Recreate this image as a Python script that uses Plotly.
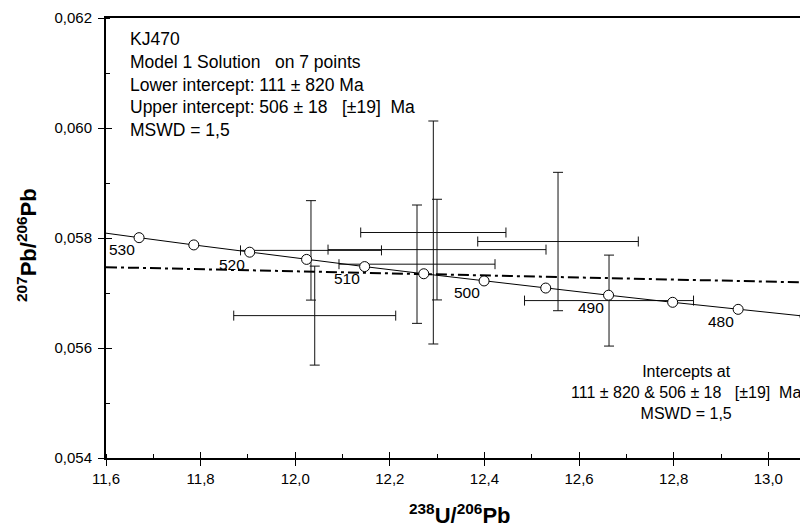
import plotly.graph_objects as go

# --- data ---
# measured points (238U/206Pb, 207Pb/206Pb) with 2-sigma errors
pt_x = [12.0333, 12.2997, 12.2574, 12.2919, 12.5555, 12.6633, 12.0412]
pt_x_err = [0.1490, 0.2304, 0.1649, 0.1535, 0.1697, 0.1786, 0.1712]
pt_y = [0.057775, 0.057789, 0.057524, 0.058100, 0.057936, 0.056862, 0.056589]
pt_y_err = [0.000904, 0.000915, 0.001076, 0.002027, 0.001258, 0.000827, 0.000900]

# concordia curve points (ages in Ma)
conc_age = [470, 475, 480, 485, 490, 495, 500, 505, 510, 515, 520, 525, 530, 535]
conc_x = [13.2218, 13.0776, 12.9362, 12.7978, 12.6623, 12.5295, 12.3992,
          12.2717, 12.1467, 12.0240, 11.9037, 11.7856, 11.6699, 11.5563]
conc_y = [0.056447, 0.056574, 0.056703, 0.056831, 0.056960, 0.057090, 0.057219,
          0.057350, 0.057480, 0.057611, 0.057742, 0.057874, 0.058006, 0.058139]

# circles drawn at 475..530 Ma, labels every 10 Ma
marker_ages = [475, 480, 485, 490, 495, 500, 505, 510, 515, 520, 525, 530]
label_ages = [530, 520, 510, 500, 490, 480]

# discordia (regression) line ends
disc_x = [11.60, 13.10]
disc_y = [0.057470, 0.057188]

x_range = [11.6, 13.0839]
y_range = [0.054, 0.062]

info_lines = ["KJ470", "Model 1 Solution\u00a0\u00a0 on 7 points",
              "Lower intercept: 111 ± 820 Ma",
              "Upper intercept: 506 ± 18\u00a0\u00a0 [±19]\u00a0 Ma",
              "MSWD = 1,5"]
result_lines = ["Intercepts at",
                "111 ± 820 & 506 ± 18\u00a0\u00a0 [±19]\u00a0 Ma",
                "MSWD = 1,5"]

FONT = "Liberation Sans, Arial, sans-serif"

fig = go.Figure()

# error crosses
fig.add_trace(go.Scatter(
    x=pt_x, y=pt_y, mode="markers",
    marker=dict(size=1, color="rgba(0,0,0,0)"),
    error_x=dict(type="data", array=pt_x_err, color="#111111", thickness=1, width=5),
    error_y=dict(type="data", array=pt_y_err, color="#111111", thickness=1, width=5),
    showlegend=False, hoverinfo="skip"))

# discordia line
fig.add_trace(go.Scatter(
    x=disc_x, y=disc_y, mode="lines",
    line=dict(color="black", width=2, dash="11px,4px,3px,4px"),
    showlegend=False, hoverinfo="skip"))

# concordia line
fig.add_trace(go.Scatter(
    x=conc_x, y=conc_y, mode="lines",
    line=dict(color="black", width=1),
    showlegend=False, hoverinfo="skip"))

# concordia age markers
mx = [conc_x[conc_age.index(a)] for a in marker_ages]
my = [conc_y[conc_age.index(a)] for a in marker_ages]
fig.add_trace(go.Scatter(
    x=mx, y=my, mode="markers",
    marker=dict(size=10, color="white", line=dict(color="black", width=1)),
    showlegend=False, hoverinfo="skip"))

# age labels
for a in label_ages:
    i = conc_age.index(a)
    fig.add_annotation(x=conc_x[i], y=conc_y[i], xref="x", yref="y",
                       text=str(a), showarrow=False, xshift=-17.5, yshift=-12,
                       xanchor="center", yanchor="middle",
                       font=dict(family=FONT, size=15.5, color="black"))

# info text top-left
fig.add_annotation(x=11.6465, y=0.060796, xref="x", yref="y",
                   text="<br>".join(info_lines), showarrow=False,
                   xanchor="left", yanchor="middle", align="left",
                   font=dict(family=FONT, size=17.5, color="black"))

# result text bottom-right
fig.add_annotation(x=12.825, y=0.055191, xref="x", yref="y",
                   text="<br>".join(result_lines), showarrow=False,
                   xanchor="center", yanchor="middle", align="center",
                   font=dict(family=FONT, size=16, color="black"))

# axis titles
fig.add_annotation(x=(27 - 106) / 702, y=(458 - 245) / 440, xref="paper", yref="paper",
                   text="<b><sup>207</sup>Pb/<sup>206</sup>Pb</b>", showarrow=False,
                   textangle=-90, xanchor="center", yanchor="middle",
                   font=dict(family=FONT, size=22, color="black"))
fig.add_annotation(x=(460 - 106) / 702, y=(458 - 514) / 440, xref="paper", yref="paper",
                   text="<b><sup>238</sup>U/<sup>206</sup>Pb</b>", showarrow=False,
                   xanchor="center", yanchor="middle",
                   font=dict(family=FONT, size=22, color="black"))

# helper overlay trace for inner tick halves
fig.add_trace(go.Scatter(x=[None], y=[None], xaxis="x2", yaxis="y2",
                         showlegend=False, hoverinfo="skip"))

# page body has an 8px default margin, so the figure is sized to fill the rest
fig.update_layout(
    width=800, height=519,
    margin=dict(l=98, r=0, t=10, b=69),
    paper_bgcolor="white", plot_bgcolor="white",
    separators=",.",
    showlegend=False,
    font=dict(family=FONT, color="black"),
    xaxis=dict(range=x_range, showgrid=False, zeroline=False,
               showline=True, linecolor="black", linewidth=2, mirror=True,
               ticks="outside", ticklen=6, tickwidth=1.3, tickcolor="black",
               tick0=11.6, dtick=0.2, tickformat=".1f",
               tickfont=dict(family=FONT, size=15, color="black"),
               ticklabelstandoff=0,
               minor=dict(ticks="inside", ticklen=4, dtick=0.1, tickcolor="black", tickwidth=1)),
    yaxis=dict(range=y_range, showgrid=False, zeroline=False,
               showline=True, linecolor="black", linewidth=2,
               ticks="outside", ticklen=6, tickwidth=1.3, tickcolor="black",
               tick0=0.054, dtick=0.002, tickformat=".3f",
               tickfont=dict(family=FONT, size=15, color="black"),
               ticklabelstandoff=3,
               minor=dict(ticks="inside", ticklen=4, dtick=0.001, tickcolor="black", tickwidth=1)),
    xaxis2=dict(range=x_range, overlaying="x", anchor="y2", side="bottom",
                showgrid=False, zeroline=False, showline=False, showticklabels=False,
                ticks="inside", ticklen=6, tickwidth=1.3, tickcolor="black",
                tick0=11.6, dtick=0.2),
    yaxis2=dict(range=y_range, overlaying="y", anchor="x2", side="left",
                showgrid=False, zeroline=False, showline=False, showticklabels=False,
                ticks="inside", ticklen=6, tickwidth=1.3, tickcolor="black",
                tick0=0.054, dtick=0.002),
)

fig.write_html("out.html")
